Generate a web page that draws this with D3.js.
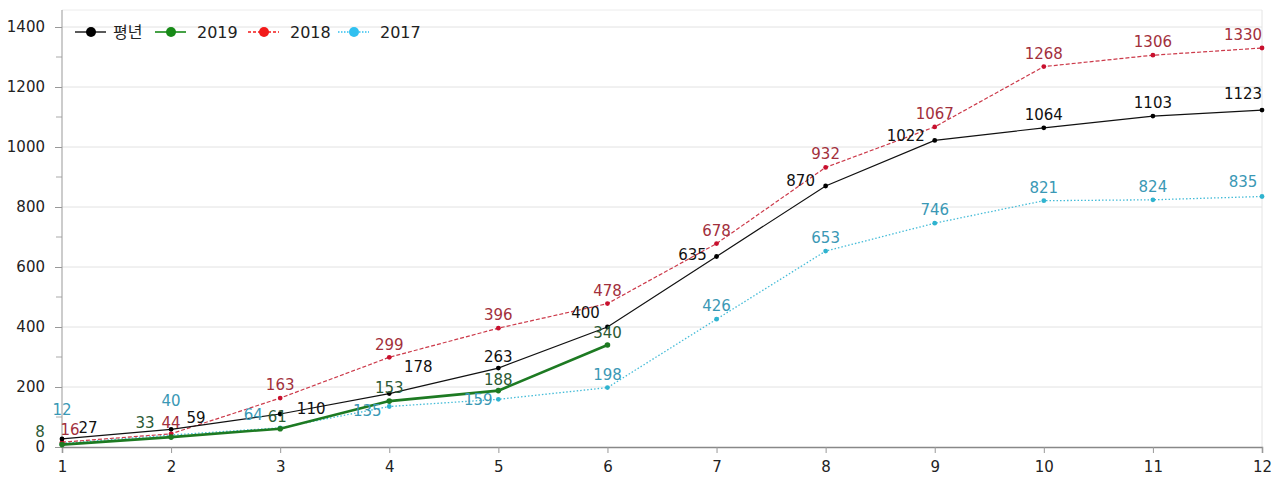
<!DOCTYPE html>
<html><head><meta charset="utf-8">
<script src="https://cdn.jsdelivr.net/npm/d3@7"></script>
<style>
html,body{margin:0;padding:0;background:#fff;}
svg{display:block;font-family:"DejaVu Sans","Noto Sans CJK KR",sans-serif;}
</style></head>
<body>
<svg id="chart" width="1284" height="478"></svg>
<script>
// ---- data ----
const months = [1,2,3,4,5,6,7,8,9,10,11,12];
const seriesNames = ["평년","2019","2018","2017"];
const normal = [27,59,110,178,263,400,635,870,1022,1064,1103,1123];
const y2019 = [8,33,61,153,188,340];
const y2018 = [16,44,163,299,396,478,678,932,1067,1268,1306,1330];
const y2017 = [12,40,64,135,159,198,426,653,746,821,824,835];
const yTicks = [0,200,400,600,800,1000,1200,1400];

// ---- label offsets (dx, dy from default position above the point) ----
const labelShift = {
  "평년": [[26,2],[25,2],[31,8],[29,-14],[0,2],[-22,-1],[-24,11],[-25,8],[-29,9],[0,0],[0,0],[-19,-3]],
  "2019": [[-22,0],[-26,-1],[-3,1],[0,0],[0,2],[0,1]],
  "2018": [[8,1],[0,2],[0,0],[0,1],[0,0],[0,0],[0,0],[0,0],[0,0],[0,0],[0,0],[-19,0]],
  "2017": [[0,-20],[0,-21],[-27,0],[-22,17],[-20,14],[0,0],[0,0],[0,0],[0,0],[0,0],[0,0],[-19,-2]]
};

const styles = {
  "평년": {line:"#111", width:1.2, dash:null, marker:"#000", label:"#111", legend:"#000"},
  "2019": {line:"#1d7a22", width:2.6, dash:null, marker:"#1d7a22", label:"#2b5a34", legend:"#178a17"},
  "2018": {line:"#cc3a4a", width:1.2, dash:"4,2", marker:"#c8102e", label:"#a2303c", legend:"#f21a1a"},
  "2017": {line:"#45bcd8", width:1.3, dash:"1.5,2", marker:"#2fb3cf", label:"#3a98b5", legend:"#30c0f0"}
};
const seriesData = {"평년":normal,"2019":y2019,"2018":y2018,"2017":y2017};

const svg = d3.select("#chart");
const x = d3.scaleLinear().domain([1,12]).range([62,1262]);
const y = d3.scaleLinear().domain([0,1400]).range([447,27]);
const plotTop = 10;

// grid
svg.append("g").selectAll("line").data(yTicks.filter(d=>d>0)).join("line")
  .attr("x1",62).attr("x2",1262).attr("y1",d=>y(d)).attr("y2",d=>y(d))
  .attr("stroke","#e2e2e2").attr("stroke-width",1);
svg.append("line").attr("x1",62).attr("x2",1262).attr("y1",plotTop).attr("y2",plotTop)
  .attr("stroke","#ececec");
svg.append("line").attr("x1",1262).attr("x2",1262).attr("y1",plotTop).attr("y2",447)
  .attr("stroke","#e4e4e4");

// y axis
const yAxis = d3.axisLeft(y).tickValues(yTicks).tickFormat(d3.format("d")).tickSize(7).tickPadding(10);
const gy = svg.append("g").attr("transform","translate(62,0)").call(yAxis);
gy.select(".domain").remove();
gy.selectAll(".tick line").attr("stroke","#999");
gy.selectAll(".tick text").attr("fill","#222").style("font-size","15px").style("font-family","DejaVu Sans");
// minor ticks
svg.append("g").selectAll("line").data(d3.range(100,1400,200)).join("line")
  .attr("x1",56).attr("x2",62).attr("y1",d=>y(d)).attr("y2",d=>y(d)).attr("stroke","#aaa");
svg.append("line").attr("x1",62).attr("x2",62).attr("y1",plotTop).attr("y2",447).attr("stroke","#999");

// x axis
const xAxis = d3.axisBottom(x).tickValues(months).tickFormat(d3.format("d")).tickSize(6).tickPadding(8);
const gx = svg.append("g").attr("transform","translate(0,447)").call(xAxis);
gx.select(".domain").attr("stroke","#888").attr("stroke-width",1.5);
gx.selectAll(".tick line").attr("stroke","#999");
gx.selectAll(".tick text").attr("fill","#222").style("font-size","15px").style("font-family","DejaVu Sans");

// lines
const lineGen = d3.line().x((d,i)=>x(months[i])).y(d=>y(d));
const drawOrder = ["2017","2018","평년","2019"];
drawOrder.forEach(name=>{
  const s = styles[name], data = seriesData[name];
  svg.append("path").datum(data).attr("d",lineGen)
    .attr("fill","none").attr("stroke",s.line).attr("stroke-width",s.width)
    .attr("stroke-dasharray",s.dash);
  svg.append("g").selectAll("circle").data(data).join("circle")
    .attr("cx",(d,i)=>x(months[i])).attr("cy",d=>y(d)).attr("r",name==="2019"?2.8:2.4)
    .attr("fill",s.marker);
});
// labels
["2017","2018","2019","평년"].forEach(name=>{
  const s = styles[name], data = seriesData[name], sh = labelShift[name];
  svg.append("g").selectAll("text").data(data).join("text")
    .attr("x",(d,i)=>x(months[i]) + sh[i][0])
    .attr("y",(d,i)=>y(d) - 8 + sh[i][1])
    .attr("text-anchor","middle")
    .attr("fill",s.label).style("font-size","15px").style("font-family","DejaVu Sans")
    .text(d=>d);
});

// legend
const legendX = [75,155,248,338];
const lg = svg.append("g");
seriesNames.forEach((name,i)=>{
  const s = styles[name], x0 = legendX[i];
  const g = lg.append("g").attr("transform",`translate(${x0},32)`);
  g.append("line").attr("x1",0).attr("x2",31).attr("y1",0).attr("y2",0)
    .attr("stroke",s.legend).attr("stroke-width",name==="2019"?1.6:1.3)
    .attr("stroke-dasharray",name==="2018"?"3,2":(name==="2017"?"1.5,1.5":null));
  g.append("circle").attr("cx",16).attr("cy",0).attr("r",5).attr("fill",s.legend);
  g.append("text").attr("x",name==="평년"?38:42).attr("y",6)
    .attr("fill","#222").style("font-size","16px")
    .style("font-family",name==="평년"?"Noto Sans CJK KR":"DejaVu Sans")
    .text(name);
});
</script>
</body></html>
